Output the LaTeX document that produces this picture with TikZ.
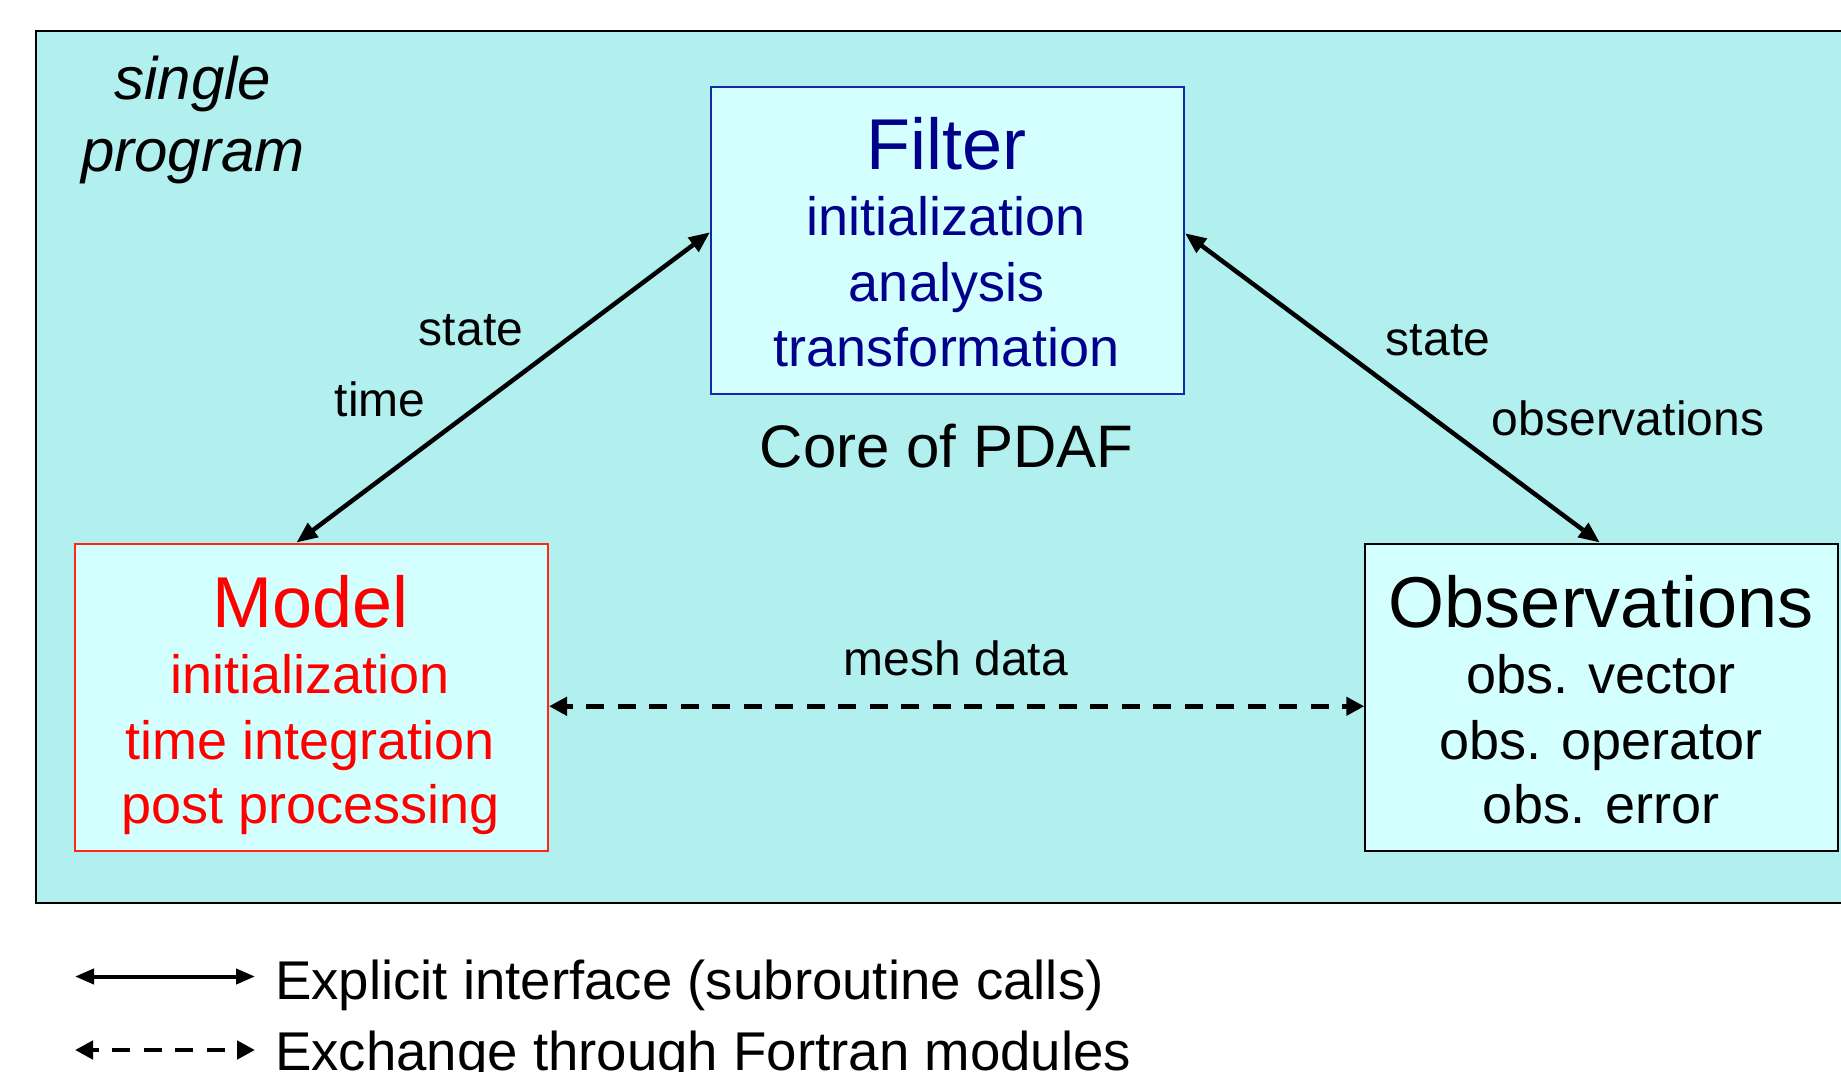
\documentclass[tikz,border=0pt]{standalone}
\usepackage{fontspec}
\setmainfont{Liberation Sans}
\usetikzlibrary{arrows.meta}

\definecolor{panelbg}{RGB}{178,240,240}
\definecolor{boxbg}{RGB}{212,255,255}
\definecolor{filtertext}{RGB}{0,0,140}
\definecolor{filterline}{RGB}{20,40,170}
\definecolor{modeltext}{RGB}{255,0,0}
\definecolor{modelline}{RGB}{255,40,20}

\tikzset{
  unitbox/.style={rectangle, draw, line width=2pt, fill=boxbg,
    minimum width=473pt, minimum height=307.5pt, inner sep=0pt, anchor=north west},
  headtext/.style={font=\fontsize{72}{80}\selectfont, anchor=base, inner sep=0pt},
  itemtext/.style={font=\fontsize{54}{60}\selectfont, anchor=base, inner sep=0pt},
  edgetext/.style={font=\fontsize{48}{54}\selectfont, anchor=base, inner sep=0pt},
  calllink/.style={line width=4.5pt,
    {Triangle[length=21pt,width=17pt]}-{Triangle[length=21pt,width=17pt]}},
  modlink/.style={line width=4.5pt, dash pattern=on 18pt off 13.5pt, dash phase=11pt,
    {Triangle[length=18pt,width=18pt]}-{Triangle[length=18pt,width=18pt]}},
  keycall/.style={line width=4pt,
    {Triangle[length=19pt,width=15pt]}-{Triangle[length=19pt,width=15pt]}},
}

\begin{document}
\begin{tikzpicture}[x=1pt, y=-1pt]
\useasboundingbox (0,0) rectangle (1841,1071);
\clip (0,0) rectangle (1841,1071);

% program frame
\draw[fill=panelbg, line width=2pt] (35.5,31) rectangle (1870,903);
\node[font=\fontsize{60}{66}\selectfont\itshape, anchor=base, inner sep=0pt] (single) at (193,99.5) {single};
\node[font=\fontsize{60}{66}\selectfont\itshape, anchor=base, inner sep=0pt] (program) at (193,171.5) {program};

% filter (core of PDAF)
\node[unitbox, draw=filterline] (filter) at (710,85.5) {};
\node[headtext, text=filtertext] (ftitle) at (946.5,169.5) {Filter};
\node[itemtext, text=filtertext] (f1) at (946.5,235) {initialization};
\node[itemtext, text=filtertext] (f2) at (946.5,301.5) {analysis};
\node[itemtext, text=filtertext] (f3) at (946.5,366) {transformation};
\node[font=\fontsize{60}{66}\selectfont, anchor=base, inner sep=0pt] (core) at (946.5,467) {Core of PDAF};

% model
\node[unitbox, draw=modelline] (model) at (74,542.5) {};
\node[headtext, text=modeltext] (mtitle) at (310.5,627) {Model};
\node[itemtext, text=modeltext] (m1) at (310.5,693) {initialization};
\node[itemtext, text=modeltext] (m2) at (310.5,759) {time integration};
\node[itemtext, text=modeltext] (m3) at (310.5,823) {post processing};

% observations
\node[unitbox, draw=black] (obs) at (1364.3,542.5) {};
\node[headtext] (otitle) at (1601,627) {Observations};
\node[itemtext] (o1) at (1601,693) {obs. vector};
\node[itemtext] (o2) at (1601,759) {obs. operator};
\node[itemtext] (o3) at (1601,823) {obs. error};

% interfaces
\draw[calllink] ([xshift=-15pt]model.north) -- ([yshift=8pt]filter.west);
\draw[calllink] ([yshift=7pt]filter.east) -- ([xshift=-2pt]obs.north);
\draw[modlink] ([yshift=-9pt]model.east) -- ([yshift=-9pt]obs.west);

\node[edgetext] (lstate) at (471,345.5) {state};
\node[edgetext] (ltime) at (380,416.5) {time};
\node[edgetext] (rstate) at (1438,355) {state};
\node[edgetext] (robs) at (1628,435) {observations};
\node[edgetext] (mesh) at (956,675) {mesh data};

% key
\coordinate (k1a) at (75,976.5);
\coordinate (k1b) at (255,976.5);
\coordinate (k2a) at (75,1050);
\coordinate (k2b) at (255,1050);
\draw[keycall] (k1a) -- (k1b);
\draw[modlink] (k2a) -- (k2b);
\node[itemtext, font=\fontsize{54.6}{60}\selectfont, anchor=base west] (key1) at (275,999) {Explicit interface (subroutine calls)};
\node[itemtext, font=\fontsize{54.6}{60}\selectfont, anchor=base west] (key2) at (275,1070) {Exchange through Fortran modules};
\end{tikzpicture}
\end{document}
